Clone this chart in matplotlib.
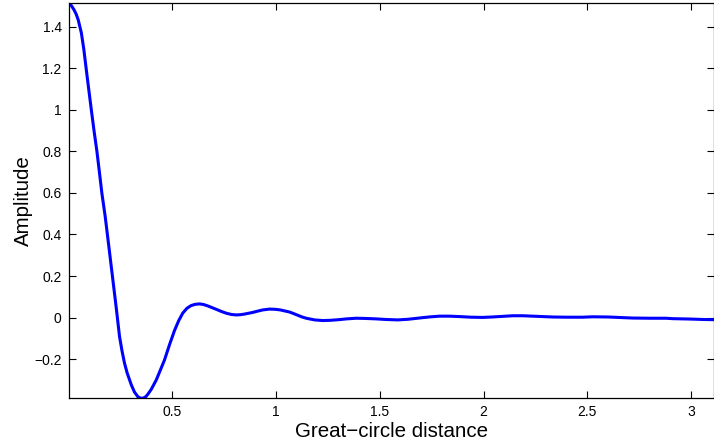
import numpy as np
import matplotlib.pyplot as plt

plt.rcParams['font.family'] = ['Liberation Sans', 'DejaVu Sans']

# amplitude vs great-circle distance (radians)
distance = [0.000, 0.010, 0.025, 0.036, 0.046, 0.061, 0.073, 0.089, 0.109,
            0.122, 0.136, 0.148, 0.160, 0.176, 0.195, 0.213, 0.230, 0.245,
            0.257, 0.269, 0.282, 0.302, 0.317, 0.333, 0.345, 0.353, 0.362,
            0.372, 0.382, 0.398, 0.422, 0.442, 0.462, 0.486, 0.510, 0.530,
            0.550, 0.570, 0.590, 0.610, 0.631, 0.650, 0.671, 0.691, 0.711,
            0.735, 0.760, 0.785, 0.807, 0.827, 0.847, 0.867, 0.887, 0.910,
            0.935, 0.968, 0.995, 1.020, 1.042, 1.064, 1.085, 1.105, 1.125,
            1.145, 1.185, 1.224, 1.260, 1.300, 1.340, 1.385, 1.430, 1.480,
            1.530, 1.586, 1.635, 1.680, 1.735, 1.787, 1.835, 1.883, 1.940,
            1.995, 2.040, 2.090, 2.140, 2.188, 2.260, 2.332, 2.400, 2.477,
            2.525, 2.600, 2.670, 2.718, 2.800, 2.879, 2.910, 3.000, 3.060,
            3.110]
amplitude = [1.510, 1.505, 1.482, 1.460, 1.432, 1.370, 1.290, 1.159, 1.000,
             0.900, 0.800, 0.700, 0.598, 0.486, 0.330, 0.181, 0.040, -0.091,
             -0.160, -0.219, -0.267, -0.324, -0.358, -0.380, -0.387, -0.388, -0.386,
             -0.380, -0.368, -0.345, -0.300, -0.252, -0.203, -0.130, -0.062, -0.015,
             0.022, 0.045, 0.058, 0.064, 0.066, 0.063, 0.056, 0.048, 0.040,
             0.030, 0.021, 0.015, 0.013, 0.014, 0.017, 0.021, 0.025, 0.031,
             0.037, 0.041, 0.040, 0.037, 0.032, 0.027, 0.019, 0.011, 0.003,
             -0.003, -0.011, -0.014, -0.013, -0.010, -0.006, -0.003, -0.004, -0.006,
             -0.009, -0.011, -0.008, -0.003, 0.003, 0.007, 0.007, 0.005, 0.002,
             0.001, 0.003, 0.006, 0.009, 0.009, 0.006, 0.003, 0.002, 0.002,
             0.004, 0.003, 0.000, -0.002, -0.003, -0.003, -0.005, -0.007, -0.009,
             -0.010]

fig = plt.figure(figsize=(7.14, 4.46), dpi=100)
ax = fig.add_axes([0.0962, 0.107, 0.9038, 0.8856])

ax.plot(distance, amplitude, color='#0000ff', lw=2.2)

ax.set_xlim(0, 3.11)
ax.set_ylim(-0.388, 1.512)
ax.set_xticks([0.5, 1, 1.5, 2, 2.5, 3])
ax.set_xticklabels(['0.5', '1', '1.5', '2', '2.5', '3'])
ax.set_yticks([-0.2, 0, 0.2, 0.4, 0.6, 0.8, 1, 1.2, 1.4])
ax.set_yticklabels(['\u22120.2', '0', '0.2', '0.4', '0.6', '0.8', '1', '1.2', '1.4'])
ax.tick_params(direction='in', length=5, width=0.8, top=True, right=True,
               labelsize=10, pad=5)
for s in ax.spines.values():
    s.set_linewidth(0.9)

ax.set_xlabel('Great\u2212circle distance', fontsize=14.8, labelpad=2)
ax.set_ylabel('Amplitude', fontsize=14.8, labelpad=1)

fig.savefig('out.png', dpi=100)
